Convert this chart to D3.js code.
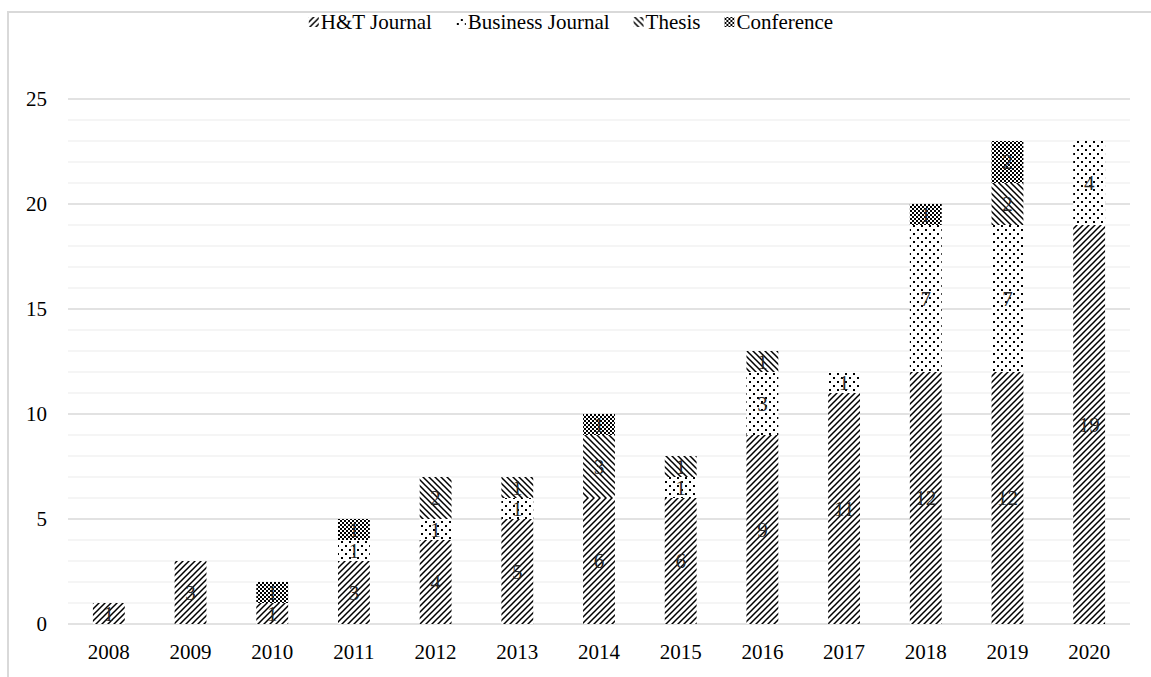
<!DOCTYPE html>
<html>
<head>
<meta charset="UTF-8">
<title>Publications per year</title>
<script src="https://cdn.jsdelivr.net/npm/d3@7"></script>
<style>
  body { margin: 0; background: #fff; }
  svg text { font-family: "Liberation Serif", "Times New Roman", serif; fill: #000; }
  .grid-minor { stroke: #f2f2f2; stroke-width: 1.5; }
  .grid-major { stroke: #d9d9d9; stroke-width: 1.5; }
  .frame { stroke: #d9d9d9; stroke-width: 2; }
</style>
</head>
<body>
<div id="graphe"></div>
<script>
// donnees
var years = ["2008", "2009", "2010", "2011", "2012", "2013", "2014", "2015", "2016", "2017", "2018", "2019", "2020"];
var htJournal = [1, 3, 1, 3, 4, 5, 6, 6, 9, 11, 12, 12, 19];
var businessJournal = [0, 0, 0, 1, 1, 1, 0, 1, 3, 1, 7, 7, 4];
var thesis = [0, 0, 0, 0, 2, 1, 3, 1, 1, 0, 0, 2, 0];
var conference = [0, 0, 1, 1, 0, 0, 1, 0, 0, 0, 1, 2, 0];
var seriesNames = ["H&T Journal", "Business Journal", "Thesis", "Conference"];
var yTicks = [0, 5, 10, 15, 20, 25];

var width = 1151, height = 677;
var plot = {left: 68, right: 1130, top: 99, bottom: 624};
var fontSize = "21px";

var svg = d3.select("#graphe").append("svg")
  .attr("width", width)
  .attr("height", height);

// motifs de remplissage facon Excel
var defs = svg.append("defs");
var keys = ["ht", "bus", "th", "conf"];

var p = defs.append("pattern").attr("id", "ht")
  .attr("patternUnits", "userSpaceOnUse").attr("width", 6).attr("height", 6);
p.append("rect").attr("width", 6).attr("height", 6).attr("fill", "#fff");
p.append("path").attr("d", "M-1,7 L7,-1 M-4,4 L4,-4 M2,10 L10,2")
  .attr("stroke", "#000").attr("stroke-width", 1.5);

p = defs.append("pattern").attr("id", "th")
  .attr("patternUnits", "userSpaceOnUse").attr("width", 6).attr("height", 6);
p.append("rect").attr("width", 6).attr("height", 6).attr("fill", "#fff");
p.append("path").attr("d", "M-1,-1 L7,7 M-4,2 L4,10 M2,-4 L10,4")
  .attr("stroke", "#000").attr("stroke-width", 1.5);

p = defs.append("pattern").attr("id", "bus")
  .attr("patternUnits", "userSpaceOnUse").attr("width", 8).attr("height", 8);
p.append("rect").attr("width", 8).attr("height", 8).attr("fill", "#fff");
p.append("rect").attr("x", 1).attr("y", 1).attr("width", 2).attr("height", 2).attr("fill", "#000");
p.append("rect").attr("x", 5).attr("y", 5).attr("width", 2).attr("height", 2).attr("fill", "#000");

p = defs.append("pattern").attr("id", "conf")
  .attr("patternUnits", "userSpaceOnUse").attr("width", 4).attr("height", 4);
p.append("rect").attr("width", 4).attr("height", 4).attr("fill", "#fff");
p.append("rect").attr("width", 2).attr("height", 2).attr("fill", "#000");
p.append("rect").attr("x", 2).attr("y", 2).attr("width", 2).attr("height", 2).attr("fill", "#000");

// cadre (haut et gauche seulement visibles)
svg.append("line").attr("class", "frame")
  .attr("x1", 7).attr("x2", width).attr("y1", 12).attr("y2", 12);
svg.append("line").attr("class", "frame")
  .attr("x1", 8).attr("x2", 8).attr("y1", 11).attr("y2", height);

var x = d3.scaleBand()
  .domain(years)
  .range([plot.left, plot.right])
  .paddingInner(0.61)
  .paddingOuter(0.305);

var y = d3.scaleLinear()
  .domain([0, 25])
  .range([plot.bottom, plot.top]);

// grille secondaire puis principale
svg.append("g").selectAll("line")
  .data(d3.range(0, 26).filter(function(v) { return v % 5 !== 0; }))
  .enter().append("line")
  .attr("class", "grid-minor")
  .attr("x1", plot.left).attr("x2", plot.right)
  .attr("y1", function(d) { return y(d); })
  .attr("y2", function(d) { return y(d); });

svg.append("g").selectAll("line")
  .data(yTicks)
  .enter().append("line")
  .attr("class", "grid-major")
  .attr("x1", plot.left).attr("x2", plot.right)
  .attr("y1", function(d) { return y(d); })
  .attr("y2", function(d) { return y(d); });

// axe y
svg.append("g").selectAll("text")
  .data(yTicks)
  .enter().append("text")
  .attr("x", 47)
  .attr("y", function(d) { return y(d); })
  .attr("dy", "0.35em")
  .attr("text-anchor", "end")
  .style("font-size", fontSize)
  .text(function(d) { return d; });

// axe x
svg.append("g").selectAll("text")
  .data(years)
  .enter().append("text")
  .attr("x", function(d) { return x(d) + x.bandwidth() / 2; })
  .attr("y", 659)
  .attr("text-anchor", "middle")
  .style("font-size", fontSize)
  .text(function(d) { return d; });

// empilement
var rows = years.map(function(yr, i) {
  return {year: yr, ht: htJournal[i], bus: businessJournal[i], th: thesis[i], conf: conference[i]};
});
var stacked = d3.stack().keys(keys)(rows);

var layer = svg.append("g").selectAll("g")
  .data(stacked)
  .enter().append("g")
  .attr("fill", function(d) { return "url(#" + d.key + ")"; });

layer.selectAll("rect")
  .data(function(d) { return d.filter(function(s) { return s[1] > s[0]; }); })
  .enter().append("rect")
  .attr("x", function(d) { return x(d.data.year); })
  .attr("y", function(d) { return y(d[1]); })
  .attr("width", x.bandwidth())
  .attr("height", function(d) { return y(d[0]) - y(d[1]); });

layer.selectAll("text")
  .data(function(d) { return d.filter(function(s) { return s[1] > s[0]; }); })
  .enter().append("text")
  .attr("x", function(d) { return x(d.data.year) + x.bandwidth() / 2; })
  .attr("y", function(d) { return (y(d[0]) + y(d[1])) / 2; })
  .attr("dy", "0.35em")
  .attr("text-anchor", "middle")
  .style("font-size", fontSize)
  .style("fill", "#262626")
  .text(function(d) { return d[1] - d[0]; });

// legende
var legend = svg.append("g");
var lx = 0, gap = 24;
seriesNames.forEach(function(name, i) {
  var item = legend.append("g").attr("transform", "translate(" + lx + ",0)");
  item.append("rect")
    .attr("x", 0).attr("y", -5)
    .attr("width", 10).attr("height", 10)
    .attr("fill", "url(#" + keys[i] + ")");
  var t = item.append("text")
    .attr("x", 12).attr("y", 0)
    .attr("dy", "0.33em")
    .style("font-size", fontSize)
    .text(name);
  lx += 12 + t.node().getComputedTextLength() + gap;
});
lx -= gap;
legend.attr("transform", "translate(" + (571 - lx / 2) + ",22)");
</script>
</body>
</html>
